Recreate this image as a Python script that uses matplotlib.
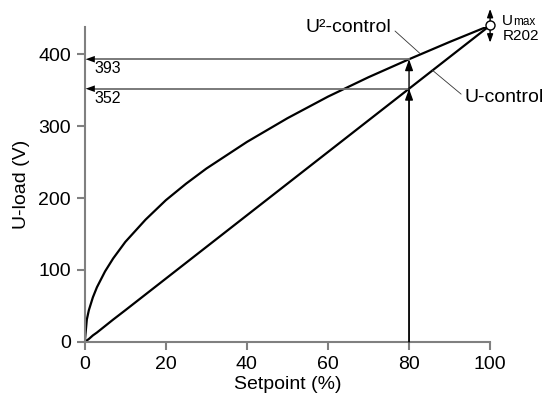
import matplotlib.pyplot as plt

plt.rcParams['font.family'] = ['Liberation Sans', 'DejaVu Sans']

# values
setpoint = [0, 0.5, 1, 2, 3, 5, 7, 10, 15, 20, 25, 30, 40, 50, 60, 70, 80, 90, 100]
u2_control = [0, 31, 44, 62, 76, 98, 116, 139, 170, 197, 220, 241, 278, 311, 341, 368, 393, 417, 440]
u_control = [0, 2, 4, 9, 13, 22, 31, 44, 66, 88, 110, 132, 176, 220, 264, 308, 352, 396, 440]

mark_x = 80
mark_u2 = 393
mark_u = 352
u_max = 440

gray = '#808080'
head = '-|>,head_length=0.7,head_width=0.25'

fig = plt.figure(figsize=(5.47, 4.07), dpi=100)
ax = fig.add_axes([0.155, 0.160, 0.741, 0.774])

ax.plot(setpoint, u2_control, color='black', lw=1.6)
ax.plot(setpoint, u_control, color='black', lw=1.6)

# reading lines at 80 %
for val in (mark_u2, mark_u):
    ax.plot([mark_x, 1.5], [val, val], color='#707070', lw=1.3)
    ax.annotate('', xy=(0.2, val), xytext=(3, val),
                arrowprops=dict(arrowstyle=head, color='black', lw=0,
                                mutation_scale=9.5, shrinkA=0, shrinkB=0))
    ax.annotate('', xy=(mark_x, val), xytext=(mark_x, 0),
                arrowprops=dict(arrowstyle=head, color='black', lw=1.0,
                                mutation_scale=9.5, shrinkA=0, shrinkB=0))
    ax.text(2.5, val - 3, str(val), fontsize=11.5, va='top', ha='left')

# U max marker
ax.plot([100], [u_max], marker='o', ms=6.5, mfc='white', mec='black', mew=1.0, clip_on=False, zorder=5)
ax.annotate('', xy=(100, u_max + 23), xytext=(100, u_max + 5),
            arrowprops=dict(arrowstyle=head, color='black', lw=1,
                            mutation_scale=7, shrinkA=0, shrinkB=0),
            annotation_clip=False)
ax.annotate('', xy=(100, u_max - 24), xytext=(100, u_max - 5),
            arrowprops=dict(arrowstyle=head, color='black', lw=1,
                            mutation_scale=7, shrinkA=0, shrinkB=0),
            annotation_clip=False)
ax.text(103.0, u_max + 1, 'U', fontsize=11, va='baseline', ha='left')
ax.text(105.6, u_max + 1, 'max', fontsize=8.5, va='baseline', ha='left')
ax.text(103.0, u_max - 5, 'R202', fontsize=11, va='top', ha='left')

# curve labels
ax.annotate('U²-control', xy=(82.7, 401), xytext=(75.6, 437), fontsize=14, va='center', ha='right',
            arrowprops=dict(arrowstyle='-', color='#333333', lw=0.6, shrinkA=1, shrinkB=0,
                            relpos=(1, 0.5)), annotation_clip=False)
ax.annotate('U-control', xy=(85.7, 378), xytext=(93.8, 340), fontsize=14, va='center', ha='left',
            arrowprops=dict(arrowstyle='-', color='#333333', lw=0.6, shrinkA=1, shrinkB=0,
                            relpos=(0, 0.5)), annotation_clip=False)

ax.set_xlim(0, 100)
ax.set_ylim(0, 438)
ax.set_xticks([0, 20, 40, 60, 80, 100])
ax.set_yticks([0, 100, 200, 300, 400])
ax.spines['top'].set_visible(False)
ax.spines['right'].set_visible(False)
for s in ('left', 'bottom'):
    ax.spines[s].set_color(gray)
    ax.spines[s].set_linewidth(1.5)
ax.tick_params(direction='out', length=6, width=1.5, color=gray, labelsize=14, pad=4)
ax.set_xlabel('Setpoint (%)', fontsize=14, labelpad=2)
ax.set_ylabel('U-load (V)', fontsize=14, labelpad=6)

fig.savefig('out.png', dpi=100)
